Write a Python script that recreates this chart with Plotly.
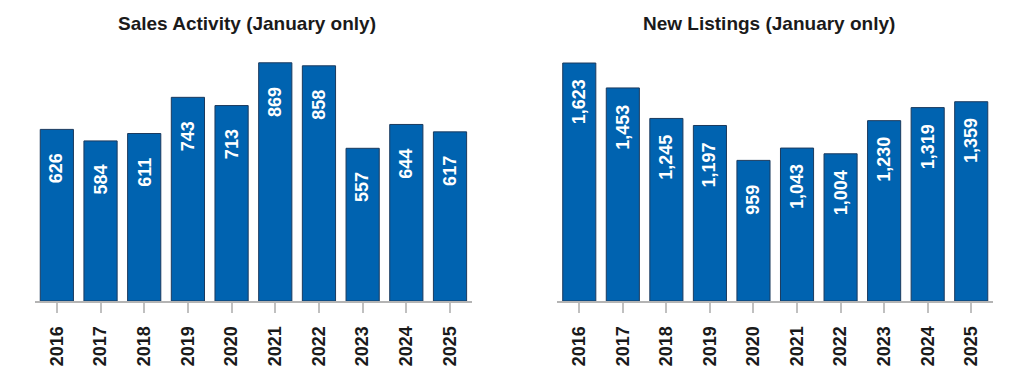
import plotly.graph_objects as go
from plotly.subplots import make_subplots

years = ["2016", "2017", "2018", "2019", "2020", "2021", "2022", "2023", "2024", "2025"]
sales = [626, 584, 611, 743, 713, 869, 858, 557, 644, 617]
listings = [1623, 1453, 1245, 1197, 959, 1043, 1004, 1230, 1319, 1359]
titles = ["Sales Activity (January only)", "New Listings (January only)"]

BAR = "#0063B0"
EDGE = "#1B3A5E"
FONT = "Liberation Sans, Arial, sans-serif"

fig = make_subplots(rows=1, cols=2, horizontal_spacing=0.09)

for col, vals in ((1, sales), (2, listings)):
    fig.add_trace(go.Bar(x=years, y=vals, marker=dict(color=BAR, line=dict(color=EDGE, width=1)),
                         hoverinfo="x+y", showlegend=False), row=1, col=col)

annotations = []
for xref, yref, vals in (("x", "y", sales), ("x2", "y2", listings)):
    for i, v in enumerate(vals):
        annotations.append(dict(x=i, y=v, xref=xref, yref=yref, text=f"{v:,}", showarrow=False,
                                textangle=-90, yshift=-39, xanchor="center", yanchor="middle",
                                font=dict(family=FONT, size=18, color="white", weight="bold")))

title_x = [0.2213, 0.766]
for tx, t in zip(title_x, titles):
    annotations.append(dict(x=tx, y=1.108, xref="paper", yref="paper", text=t, showarrow=False,
                            xanchor="center", yanchor="middle",
                            font=dict(family=FONT, size=19, color="#1a1a1a", weight="bold")))

axis_common = dict(type="category", showline=True, linecolor="#b4b4b4", linewidth=2,
                   ticks="outside", ticklen=10, tickwidth=2, tickcolor="#c0c0c0",
                   tickangle=-90, ticklabelstandoff=6, automargin=False,
                   tickfont=dict(family=FONT, size=18, color="#1a1a1a", weight="bold"),
                   showgrid=False, zeroline=False, range=[-0.5, 9.5], fixedrange=True)
fig.update_layout(
    xaxis=dict(domain=[0, 0.456], **axis_common),
    xaxis2=dict(domain=[0.5454, 1], **axis_common),
    yaxis=dict(range=[0, 912], visible=False, showgrid=False, fixedrange=True, automargin=False),
    yaxis2=dict(range=[0, 1705], visible=False, showgrid=False, fixedrange=True, automargin=False),
    bargap=0.24,
    annotations=annotations,
    width=1024, height=388,
    margin=dict(l=27, r=39, t=43, b=95, autoexpand=False),
    paper_bgcolor="white", plot_bgcolor="white",
)

fig.write_html("out.html")
